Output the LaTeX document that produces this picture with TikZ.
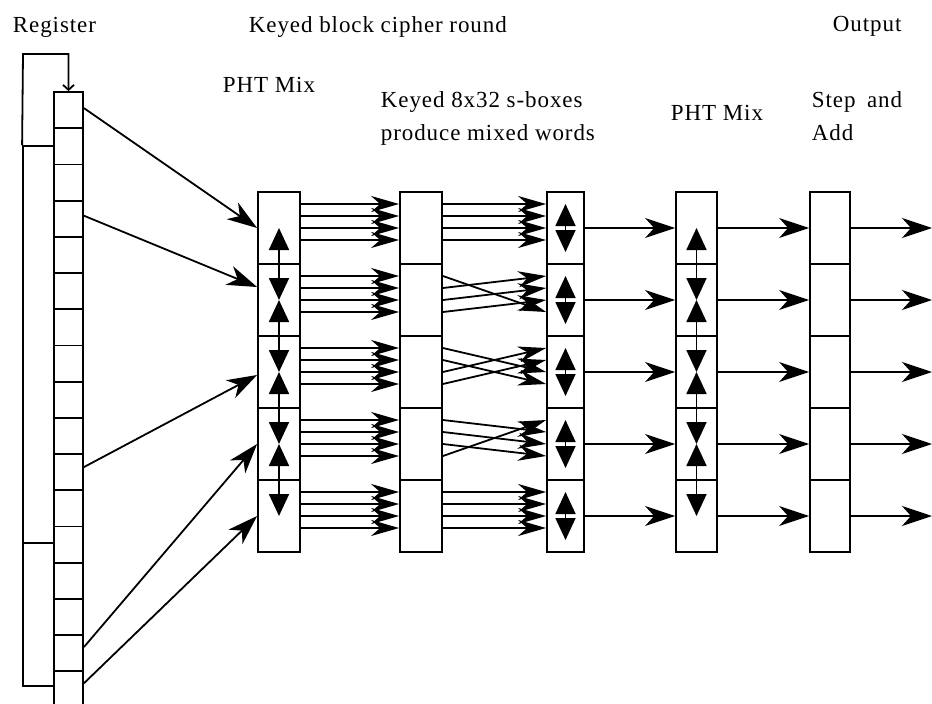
\documentclass[tikz,border=0pt]{standalone}
\usepackage{fontspec}
\setmainfont{Liberation Serif}[LetterSpace=4]
\usetikzlibrary{positioning,calc,arrows.meta}

\begin{document}
\begin{tikzpicture}[x=1pt, y=-1pt, line width=1.8pt,
  cell/.style={draw, minimum width=42pt, minimum height=72pt, inner sep=0pt},
  regcell/.style={draw, minimum width=29pt, minimum height=36.2pt, inner sep=0pt},
  wordcell/.style={draw, minimum width=31pt, inner sep=0pt},
  label/.style={anchor=base west, inner sep=0pt, align=left, font=\fontsize{23}{33}\selectfont},
  feed/.style={-{Stealth[length=30pt, width=20pt, inset=9pt]}},
  bus/.style={-{Stealth[length=28pt, width=16pt, inset=9pt]}},
  swap/.style={{Triangle[length=22pt, width=20pt]}-{Triangle[length=22pt, width=20pt]}},
  loopback/.style={-{Straight Barb[length=5pt, width=11pt]}}]
\useasboundingbox (0,0) rectangle (932,704);
\clip (0,0) rectangle (932,704);
% register
\node[wordcell, minimum height=397pt] (wa) at (38.5,344.5) {};
\node[wordcell, minimum height=143pt] (wb) at (38.5,614.5) {};
\foreach \i in {1,...,17}
  \node[regcell] (reg\i) at (68.5,{92+36.2*(\i-0.5)}) {};
\coordinate (fbtop) at (23,54);
\draw[loopback] (wa.north west) -- (fbtop) -| (reg1.north);
% round columns
\foreach \r in {1,...,5} {
  \node[cell] (pa\r) at (279,{228+72*(\r-1)}) {};
  \node[cell] (sb\r) at (421,{228+72*(\r-1)}) {};
  \node[cell, minimum width=37pt] (sc\r) at (565.5,{228+72*(\r-1)}) {};
  \node[cell, minimum width=41pt] (pb\r) at (696.5,{228+72*(\r-1)}) {};
  \node[cell, minimum width=40pt] (st\r) at (830,{228+72*(\r-1)}) {};
  \coordinate (out\r) at (932,{228+72*(\r-1)});
}
% register words into the first PHT
\draw[feed] ([yshift=2pt]reg1.east) -- (pa1.west);
\draw[feed] ([yshift=3pt]reg4.east) -- ([yshift=13pt]pa2.west);
\draw[feed] ([yshift=5pt]reg11.east) -- ([yshift=-3pt]pa3.west);
\draw[feed] ([yshift=6pt]reg16.east) -- (pa4.west);
\draw[feed] ([yshift=6pt]reg17.east) -- (pa5.west);
% byte lanes through the s-boxes
\foreach \r in {1,...,5}
  \foreach \i in {0,...,3} {
    \pgfmathtruncatemacro\j{mod(\i-\r+9,4)}
    \pgfmathsetmacro\ya{24-12*\i}
    \pgfmathsetmacro\yb{24-12*\j}
    \draw[bus] ([yshift=\ya pt]pa\r.east) -- ([yshift=\ya pt]sb\r.west);
    \draw[bus] ([yshift=\ya pt]sb\r.east) -- ([yshift=\yb pt]sc\r.west);
  }
\foreach \r in {1,...,5} {
  \draw[swap] ([yshift=24pt]sc\r.center) -- ([yshift=-24pt]sc\r.center);
  \draw[feed] (sc\r.east) -- (pb\r.west);
  \draw[feed] (pb\r.east) -- (st\r.west);
  \draw[feed] (st\r.east) -- (out\r);
}
\foreach \r/\s in {1/2,2/3,3/4,4/5} {
  \draw[swap] (pa\r.center) -- (pa\s.center);
  \draw[swap] (pb\r.center) -- (pb\s.center);
}
% labels
\node[label] (lreg) at (12,32) {Register};
\node[label] (lround) at (248,32) {Keyed block cipher round};
\node[label] (lout) at (832,31) {Output};
\node[label] (lpht) at (222,92) {PHT Mix};
\node[label] (lsbox) at (380,140) {Keyed 8x32 s-boxes\\produce mixed words};
\node[label] (lphtb) at (670,120) {PHT Mix};
\node[label] (lstep) at (811,140) {Step\enspace and\\Add};
\end{tikzpicture}
\end{document}
